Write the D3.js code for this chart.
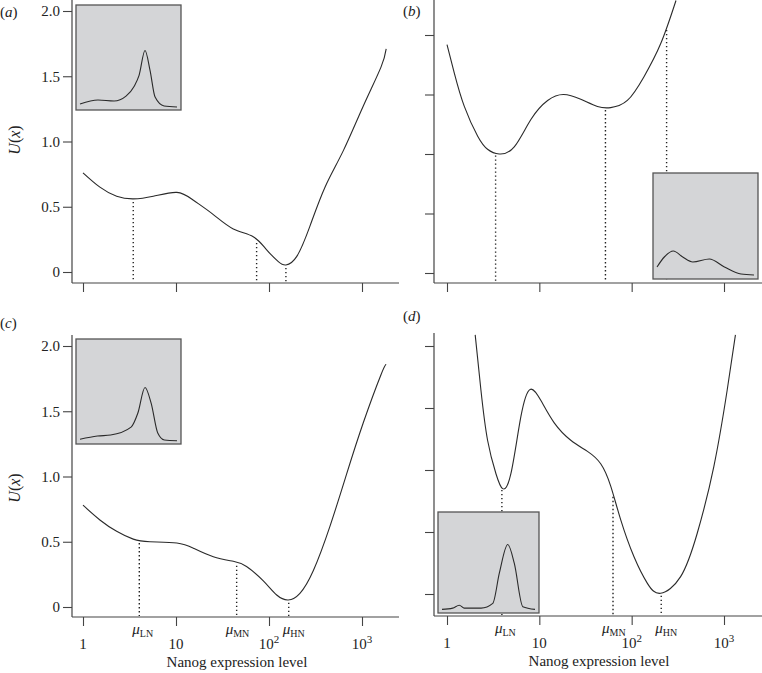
<!DOCTYPE html>
<html>
<head>
<meta charset="utf-8">
<script src="https://cdn.jsdelivr.net/npm/d3@7"></script>
<style>
  body { margin: 0; background: #fff; }
  svg { display: block; }
  text { font-family: "Liberation Serif", "DejaVu Serif", serif; fill: #222; }
</style>
</head>
<body>
<div id="view"></div>
<script>
// potential curves U(x), x = Nanog expression level
var curveA = [[1,0.76],[1.52,0.65],[2.3,0.58],[3.47,0.56],[5.7,0.58],[10.2,0.61],[15.4,0.55],[25.2,0.44],
  [41.3,0.33],[67.7,0.27],[94.4,0.17],[126,0.08],[152,0.054],[199,0.12],[275,0.35],[400,0.65],[630,0.93],
  [1030,1.27],[1600,1.57],[1820,1.71]];
var curveB = [[1,1.92],[1.2,1.68],[1.54,1.40],[2.15,1.15],[2.75,1.04],[3.68,1.0],[5.35,1.06],[8.1,1.29],
  [12.3,1.45],[18.3,1.5],[28.1,1.46],[42.6,1.40],[59.3,1.39],[89.8,1.45],[136,1.65],[207,1.93],[302,2.29]];
var curveC = [[1,0.78],[1.52,0.667],[2.3,0.58],[3.47,0.52],[5.25,0.5],[10.2,0.49],[15.4,0.45],[25.2,0.385],
  [41.3,0.35],[57.3,0.31],[86.9,0.2],[121,0.092],[161,0.054],[215,0.105],[300,0.28],[453,0.62],[684,1.02],
  [1030,1.41],[1600,1.78],[1820,1.86]];
var curveD = [[2.02,2.09],[2.33,1.645],[2.75,1.24],[3.39,0.97],[4.0,0.85],[4.92,0.97],[6.31,1.43],[7.95,1.65],
  [10.4,1.56],[14.5,1.38],[21.9,1.24],[33.2,1.15],[46.2,1.05],[59.3,0.87],[76,0.6],[106,0.3],[148,0.086],
  [206,0.006],[339,0.14],[513,0.49],[777,1.03],[1083,1.645],[1330,2.09]];

// inset densities
var densA = [[1,0.03],[4,0.07],[13.9,0.06],[35,0.11],[66,0.21],[96,0.32],[152,0.57],[224,0.37],[331,0.1],[664,0.01],[1800,0]];
var densB = [[1,0.09],[1.76,0.19],[3.53,0.25],[7.3,0.19],[15.9,0.14],[57,0.17],[183,0.09],[664,0.02],[1800,0.01]];
var densC = [[1,0.017],[3.85,0.05],[10.7,0.06],[51.8,0.14],[87,0.28],[152,0.54],[245,0.38],[407,0.08],[680,0.01],[1800,0.003]];
var densD = [[1,0.007],[2.37,0.02],[4.04,0.05],[6,0.02],[23.4,0.02],[60,0.07],[102,0.39],[200,0.69],[340,0.49],[675,0.035],[1800,0.007]];

// mu positions (LN, MN, HN)
var muA = [3.47, 73.6, 152];
var muB = [3.36, 52, 239];
var muC = [4.03, 44.9, 163];
var muD = [3.93, 62.8, 209];

var muNames = ['LN', 'MN', 'HN'];
var yTicks = [0, 0.5, 1, 1.5, 2];
var yTickLabels = ['0', '0.5', '1.0', '1.5', '2.0'];
var xTicks = [1, 10, 100, 1000];
var xTickBase = ['1', '10', '10', '10'];
var xTickExp = ['', '', '2', '3'];

var panels = [
  { id:'a', curve:curveA, dens:densA, mu:muA, ax:72, top:0, bot:283, right:399, x0:83, x3:362, y0:272, y2:11,
    inset:[76,5,105,105], labels:false, ylab:140, tag:[0,17] },
  { id:'b', curve:curveB, dens:densB, mu:muB, ax:434, top:0, bot:283, right:762, x0:447, x3:724, y0:273, y2:35,
    inset:[653,173,105,106], labels:false, ylab:0, tag:[403,16] },
  { id:'c', curve:curveC, dens:densC, mu:muC, ax:72, top:335, bot:617, right:399, x0:83, x3:362, y0:607, y2:346,
    inset:[76,339,105,105], labels:true, ylab:488, tag:[0,328] },
  { id:'d', curve:curveD, dens:densD, mu:muD, ax:434, top:333, bot:616, right:762, x0:447, x3:724, y0:594, y2:346,
    inset:[438,512,101,101], labels:true, ylab:0, tag:[403,321] }
];
var muShift = [-7, -11, -6];

var svg = d3.select('#view').append('svg').attr('width', 762).attr('height', 673);
var ink = '#2a2a2a';

panels.forEach(function(p) {
  var g = svg.append('g');
  var x = d3.scaleLog().domain([1, 1000]).range([p.x0, p.x3]);
  var y = d3.scaleLinear().domain([0, 2]).range([p.y0, p.y2]);

  g.append('clipPath').attr('id', 'clip-' + p.id)
    .append('rect').attr('x', p.ax).attr('y', p.top).attr('width', p.right - p.ax).attr('height', p.bot - p.top);

  // axes lines
  g.append('line').attr('x1', p.ax).attr('x2', p.ax).attr('y1', p.top).attr('y2', p.bot)
    .attr('stroke', '#444').attr('stroke-width', 1.2);
  g.append('line').attr('x1', p.ax).attr('x2', p.right).attr('y1', p.bot).attr('y2', p.bot)
    .attr('stroke', '#444').attr('stroke-width', 1.2);

  var yAxis = d3.axisLeft(y).tickValues(yTicks).tickSize(9).tickPadding(3)
    .tickFormat(function(d, i) { return p.ylab ? yTickLabels[i] : ''; });
  var ya = g.append('g').attr('transform', 'translate(' + p.ax + ',0)').call(yAxis);
  ya.select('.domain').remove();
  ya.selectAll('line').attr('stroke', '#444').attr('stroke-width', 1.1);
  ya.selectAll('text').attr('font-size', 15).attr('font-family', '"Liberation Serif", serif').attr('fill', '#222');

  var xAxis = d3.axisBottom(x).tickValues(xTicks).tickSize(9).tickFormat('');
  var xa = g.append('g').attr('transform', 'translate(0,' + p.bot + ')').call(xAxis);
  xa.select('.domain').remove();
  xa.selectAll('line').attr('stroke', '#444').attr('stroke-width', 1.1);

  // dotted mu lines, starting at the curve
  var interp = function(v) {
    var c = p.curve;
    for (var i = 0; i < c.length - 1; i++) {
      if (v >= c[i][0] && v <= c[i + 1][0]) {
        var t = (Math.log(v) - Math.log(c[i][0])) / (Math.log(c[i + 1][0]) - Math.log(c[i][0]));
        return c[i][1] + t * (c[i + 1][1] - c[i][1]);
      }
    }
    return c[0][1];
  };
  g.selectAll('line.mu').data(p.mu).enter().append('line').classed('mu', true)
    .attr('x1', function(d) { return x(d); }).attr('x2', function(d) { return x(d); })
    .attr('y1', function(d) { return Math.max(p.top, y(interp(d))) + 3; }).attr('y2', p.bot - 1)
    .attr('stroke', '#222').attr('stroke-width', 1.4).attr('stroke-dasharray', '1.3,2.7');

  // potential curve
  var line = d3.line().x(function(d) { return x(d[0]); }).y(function(d) { return y(d[1]); })
    .curve(d3.curveNatural);
  g.append('path').datum(p.curve).attr('d', line).attr('clip-path', 'url(#clip-' + p.id + ')')
    .attr('fill', 'none').attr('stroke', ink).attr('stroke-width', 1.1);

  // inset
  var b = p.inset;
  g.append('rect').attr('x', b[0]).attr('y', b[1]).attr('width', b[2]).attr('height', b[3])
    .attr('fill', '#d4d5d7').attr('stroke', '#555').attr('stroke-width', 1.3);
  var ix = d3.scaleLog().domain([1, 1800]).range([b[0] + 4, b[0] + b[2] - 4]);
  var iy = d3.scaleLinear().domain([0, 1]).range([b[1] + b[3] - 3, b[1] + 3]);
  var iline = d3.line().x(function(d) { return ix(d[0]); }).y(function(d) { return iy(d[1]); })
    .curve(d3.curveMonotoneX);
  g.append('path').datum(p.dens).attr('d', iline)
    .attr('fill', 'none').attr('stroke', ink).attr('stroke-width', 1.1);

  // panel tag
  var tag = g.append('text').attr('x', p.tag[0]).attr('y', p.tag[1]).attr('font-size', 15);
  tag.append('tspan').text('(');
  tag.append('tspan').attr('font-style', 'italic').text(p.id);
  tag.append('tspan').text(')');

  // y label
  if (p.ylab) {
    var yl = g.append('text').attr('transform', 'translate(20,' + p.ylab + ') rotate(-90)')
      .attr('text-anchor', 'middle').attr('font-size', 16);
    yl.append('tspan').attr('font-style', 'italic').text('U');
    yl.append('tspan').text('(');
    yl.append('tspan').attr('font-style', 'italic').text('x');
    yl.append('tspan').text(')');
  }

  // x tick labels and mu labels
  if (p.labels) {
    xTicks.forEach(function(t, i) {
      var tx = g.append('text').attr('x', x(t)).attr('y', p.bot + 32).attr('text-anchor', 'middle').attr('font-size', 15);
      tx.append('tspan').text(xTickBase[i]);
      if (xTickExp[i]) tx.append('tspan').attr('dy', -6).attr('font-size', 11).text(xTickExp[i]);
    });
    p.mu.forEach(function(m, i) {
      var t = g.append('text').attr('x', x(m) + muShift[i]).attr('y', p.bot + 17).attr('font-size', 15);
      t.append('tspan').attr('font-style', 'italic').text('\u03bc');
      t.append('tspan').attr('dy', 3).attr('font-size', 10).text(muNames[i]);
    });
    g.append('text').attr('x', p.ax + 165).attr('y', p.bot + 50)
      .attr('text-anchor', 'middle').attr('font-size', 15).text('Nanog expression level');
  }
});
</script>
</body>
</html>
